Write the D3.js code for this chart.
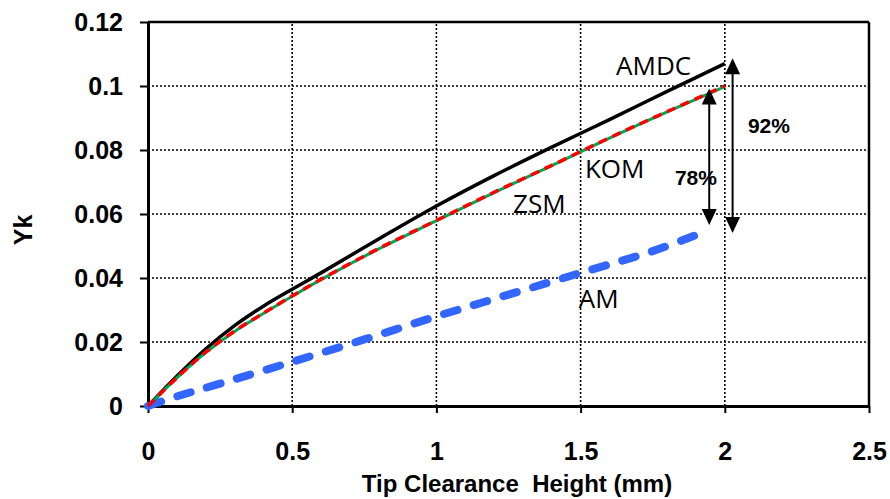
<!DOCTYPE html>
<html>
<head>
<meta charset="utf-8">
<script src="https://cdn.jsdelivr.net/npm/d3@7"></script>
<style>
  html, body { margin: 0; padding: 0; background: #fff; }
  svg { display: block; }
</style>
</head>
<body>
<svg id="chart" width="890" height="499"></svg>
<script>
// Tip clearance height (mm) vs. Yk for four loss models
const xTicks = [0, 0.5, 1, 1.5, 2, 2.5];
const yTicks = [0, 0.02, 0.04, 0.06, 0.08, 0.1, 0.12];
const yTickLabels = ["0", "0.02", "0.04", "0.06", "0.08", "0.1", "0.12"];

const xModel = [0, 0.1, 0.2, 0.3, 0.4, 0.5, 0.6, 0.8, 1.0, 1.2, 1.4, 1.6, 1.8, 2.0];
const yAMDC = [0, 0.0093, 0.0178, 0.0251, 0.0312, 0.0365, 0.0416, 0.0522, 0.0625, 0.0720, 0.0809, 0.0895, 0.0983, 0.107];
const yKOM  = [0, 0.0088, 0.0168, 0.0234, 0.029, 0.0344, 0.0396, 0.0492, 0.058, 0.0668, 0.0752, 0.0838, 0.092, 0.1];
const yZSM  = [0, 0.0088, 0.0167, 0.0233, 0.0289, 0.0343, 0.0395, 0.0491, 0.0579, 0.0667, 0.0751, 0.0837, 0.0919, 0.0998];

const xAM = [0, 0.1, 0.25, 0.5, 0.75, 1.0, 1.25, 1.5, 1.75, 1.94];
const yAM = [0, 0.003, 0.007, 0.0138, 0.0208, 0.028, 0.0348, 0.0416, 0.0484, 0.0548];

// Spread between the models at the largest clearance
const gapLabels = ["92%", "78%"];

const svg = d3.select("#chart");
const x = d3.scaleLinear().domain([0, 2.5]).range([148, 869]);
const y = d3.scaleLinear().domain([0, 0.12]).range([406, 22]);

const boldFont = "'Liberation Sans', Arial, sans-serif";
const plainFont = "'Open Sans', 'Noto Sans', sans-serif";

// dotted grid
const grid = svg.append("g");
grid.selectAll("line.gx").data(xTicks.filter(d => d > 0 && d < 2.5)).join("line")
  .attr("x1", d => x(d)).attr("x2", d => x(d))
  .attr("y1", y(0)).attr("y2", y(0.12))
  .attr("stroke", "#000").attr("stroke-width", 1.6).attr("stroke-dasharray", "2,2");
grid.selectAll("line.gy").data(yTicks.filter(d => d > 0 && d < 0.12)).join("line")
  .attr("x1", x(0)).attr("x2", x(2.5))
  .attr("y1", d => y(d)).attr("y2", d => y(d))
  .attr("stroke", "#000").attr("stroke-width", 1.6).attr("stroke-dasharray", "2,2");

// frame: top and right borders
svg.append("line").attr("x1", x(0)).attr("x2", x(2.5)).attr("y1", y(0.12)).attr("y2", y(0.12))
  .attr("stroke", "#000").attr("stroke-width", 2.5);
svg.append("line").attr("x1", x(2.5)).attr("x2", x(2.5)).attr("y1", y(0.12)).attr("y2", y(0))
  .attr("stroke", "#000").attr("stroke-width", 2.5);

// axes
const xAxis = d3.axisBottom(x).tickValues(xTicks).tickSize(7).tickSizeOuter(0).tickPadding(29)
  .tickFormat(d3.format("~g"));
const yAxis = d3.axisLeft(y).tickValues(yTicks).tickSize(8).tickSizeOuter(0).tickPadding(17)
  .tickFormat((d, i) => yTickLabels[i]);

const gx = svg.append("g").attr("transform", `translate(0,${y(0)})`).call(xAxis);
const gy = svg.append("g").attr("transform", `translate(${x(0)},0)`).call(yAxis);
[gx, gy].forEach(g => {
  g.select(".domain").attr("stroke", "#000").attr("stroke-width", 3);
  g.selectAll(".tick line").attr("stroke", "#000").attr("stroke-width", 2);
  g.selectAll(".tick text").attr("fill", "#000")
    .style("font-family", boldFont).style("font-weight", "bold").style("font-size", "25px");
});

// axis titles
svg.append("text").attr("x", 517).attr("y", 492).attr("text-anchor", "middle")
  .style("font-family", boldFont).style("font-weight", "bold").style("font-size", "24px")
  .style("white-space", "pre")
  .text("Tip Clearance  Height (mm)");
svg.append("text").attr("transform", "translate(32,230) rotate(-90)").attr("text-anchor", "middle")
  .style("font-family", boldFont).style("font-weight", "bold").style("font-size", "25px")
  .text("Yk");

// series
const curve = d3.curveCatmullRom.alpha(0.5);
const lineOf = (xs, ys) => d3.line().x((d, i) => x(xs[i])).y(d => y(d)).curve(curve)(ys);

const series = svg.append("g");
series.append("path").attr("d", lineOf(xAM, yAM))
  .attr("fill", "none").attr("stroke", "#3366ff").attr("stroke-width", 8)
  .attr("stroke-linecap", "round").attr("stroke-dasharray", "14,17");
series.append("path").attr("d", lineOf(xModel, yAMDC))
  .attr("fill", "none").attr("stroke", "#000").attr("stroke-width", 3.5);
series.append("path").attr("d", lineOf(xModel, yZSM))
  .attr("fill", "none").attr("stroke", "#00a651").attr("stroke-width", 3);
series.append("path").attr("d", lineOf(xModel, yKOM))
  .attr("fill", "none").attr("stroke", "#ff0000").attr("stroke-width", 3.5)
  .attr("stroke-dasharray", "9,6");

// series labels
const seriesLabels = svg.append("g")
  .style("font-family", plainFont).style("font-size", "26px").attr("fill", "#000");
seriesLabels.append("text").attr("x", x(1.623)).attr("y", y(0.1034)).text("AMDC");
seriesLabels.append("text").attr("x", x(1.515)).attr("y", y(0.0713)).text("KOM");
seriesLabels.append("text").attr("x", x(1.266)).attr("y", y(0.0603)).text("ZSM");
seriesLabels.append("text").attr("x", x(1.494)).attr("y", y(0.0306)).text("AM");

// double-headed arrows marking the gap to AM
function doubleArrow(xv, y0, y1) {
  const g = svg.append("g");
  const px = x(xv), top = y(y1), bot = y(y0);
  const head = 16, half = 7.5;
  g.append("line").attr("x1", px).attr("x2", px).attr("y1", top + head - 2).attr("y2", bot - head + 2)
    .attr("stroke", "#000").attr("stroke-width", 2);
  g.append("path").attr("d", `M${px},${top} L${px - half},${top + head} L${px + half},${top + head} Z`)
    .attr("fill", "#000");
  g.append("path").attr("d", `M${px},${bot} L${px - half},${bot - head} L${px + half},${bot - head} Z`)
    .attr("fill", "#000");
}
doubleArrow(2.027, 0.0541, 0.1087);
doubleArrow(1.946, 0.0566, 0.0992);

const pct = svg.append("g")
  .style("font-family", boldFont).style("font-weight", "bold").style("font-size", "21px")
  .attr("fill", "#000").attr("text-anchor", "middle");
pct.append("text").attr("x", x(2.153)).attr("y", y(0.0853)).text(gapLabels[0]);
pct.append("text").attr("x", x(1.900)).attr("y", y(0.069)).text(gapLabels[1]);
</script>
</body>
</html>
